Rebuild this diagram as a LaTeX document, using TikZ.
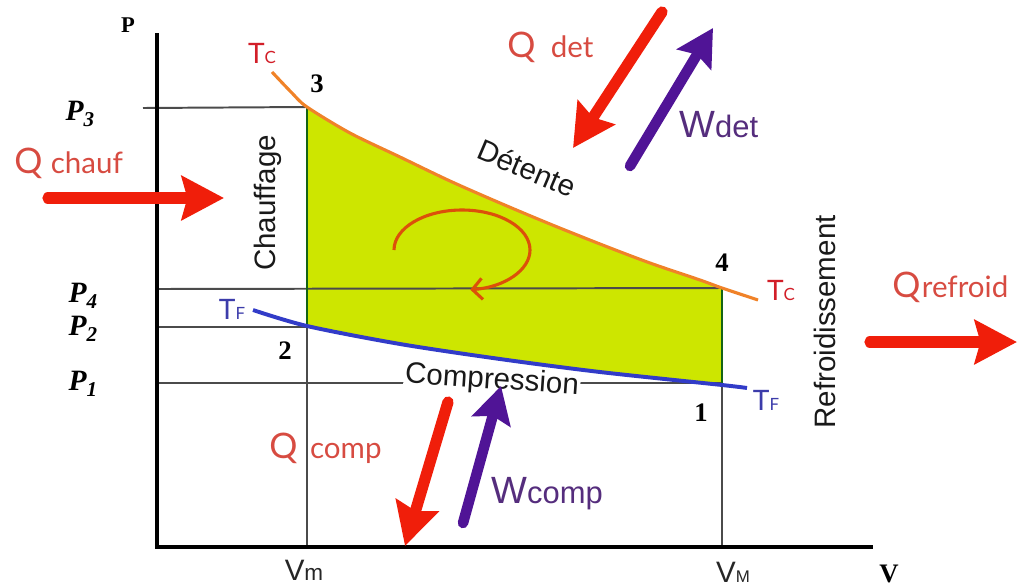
\documentclass[tikz,border=0pt]{standalone}
\usepackage{fontspec}
\setmainfont{Liberation Serif}
\setsansfont{Liberation Sans}
\newfontfamily\gillfont{Lato}
\usetikzlibrary{arrows.meta}

\definecolor{heatred}{RGB}{240,30,10}
\definecolor{workpurple}{RGB}{80,20,150}
\definecolor{qtext}{RGB}{215,75,65}
\definecolor{wtext}{RGB}{85,45,125}
\definecolor{tcred}{RGB}{210,30,40}
\definecolor{tfblue}{RGB}{60,60,170}
\definecolor{hotline}{RGB}{240,130,40}
\definecolor{coldline}{RGB}{50,60,200}
\definecolor{cyclefill}{RGB}{205,230,0}
\definecolor{cycleedge}{RGB}{20,100,20}
\definecolor{turnarrow}{RGB}{220,80,10}
\definecolor{guidegray}{RGB}{75,75,75}

\newcommand{\fsz}[1]{\fontsize{#1}{#1}\selectfont}

\tikzset{
  axisline/.style={line width=3pt, black},
  guide/.style={line width=1.4pt, guidegray},
  heatarrow/.style={line width=8pt, heatred, line cap=round, -{Stealth[length=30pt,width=31pt,inset=4pt]}},
  workarrow/.style={line width=7.5pt, workpurple, line cap=round, -{Stealth[length=26pt,width=28pt,inset=4pt]}},
  stagelabel/.style={font=\sffamily\fsz{21}, text=black!90},
  statenum/.style={font=\bfseries\fsz{19}},
  plabel/.style={font=\bfseries\itshape\fsz{21}},
  qlabel/.style={font=\gillfont\fsz{25}, text=qtext, anchor=base west, inner sep=0pt},
  wlabel/.style={font=\sffamily\fsz{27}, text=wtext, anchor=base west, inner sep=0pt},
  tlabel/.style={font=\gillfont\fsz{20}},
}

\begin{document}
\begin{tikzpicture}[x=0.025cm, y=-0.025cm]

\useasboundingbox (0,0) rectangle (1024,587);

\coordinate (origin) at (157,547);
\coordinate (s1) at (722,385);
\coordinate (s2) at (307,326);
\coordinate (s3) at (307,107);
\coordinate (s4) at (722,288);

\fill[cyclefill] (s2) -- (s3)
  -- plot[smooth] coordinates {(307,107) (350,133) (400,157) (450,181) (500,203) (550,224) (600,244) (650,263) (700,280) (722,288)}
  -- (s1)
  -- plot[smooth] coordinates {(722,385) (600,372) (500,359) (400,344) (307,326)}
  -- cycle;

\draw[guide] (143,108) -- (s3);
\draw[guide] (157,289) -- (s4);
\draw[guide] (157,327) -- (307,327);
\draw[guide] (157,383) -- (722,383);
\draw[guide] (s2) -- (307,547);
\draw[guide] (s1) -- (722,547);
\draw[line width=2pt, cycleedge] (s3) -- (s2);
\draw[line width=2pt, cycleedge] (s4) -- (s1);

\draw[axisline] (157,33) -- (origin) -- (873,547);

\node (compression) [stagelabel, rotate=-4, fill=white, inner sep=1pt] at (492,381) {Compression};

\draw[line width=2.2pt, hotline] plot[smooth] coordinates {(272,72) (292,93) (307,107) (350,133) (400,157) (450,181) (500,203) (550,224) (600,244) (650,263) (700,280) (722,288) (758,300)};
\draw[line width=2.8pt, coldline] plot[smooth] coordinates {(253,310) (307,326) (400,344) (500,359) (600,372) (722,385) (747,388)};

\draw[line width=2.2pt, turnarrow, -{Straight Barb[length=7pt,width=15pt]}] (394,250) arc[start angle=180, end angle=443, x radius=68, y radius=40];

\node (paxis) [font=\bfseries\fsz{16}] at (128,25) {P};
\node (vaxis) [font=\bfseries\fsz{19}, inner sep=0pt] at (889,574) {V};
\node (p3) [plabel] at (80,114) {P\raisebox{-4pt}{\fsz{15}3}};
\node (p4) [plabel] at (83,296) {P\raisebox{-4pt}{\fsz{15}4}};
\node (p2) [plabel] at (83,329) {P\raisebox{-4pt}{\fsz{15}2}};
\node (p1) [plabel] at (83,384) {P\raisebox{-4pt}{\fsz{15}1}};
\node (vmin) [font=\sffamily\fsz{21}, text=black!85] at (304,570) {V{\fsz{16}m}};
\node (vmax) [font=\sffamily\fsz{21}, text=black!85] at (733,572) {V{\fsz{12}M}};

\node (n3) [statenum] at (317,84) {3};
\node (n2) [statenum] at (285,351) {2};
\node (n4) [statenum] at (722,263) {4};
\node (n1) [statenum] at (701,413) {1};

\node (tc3) [tlabel, text=tcred] at (262,53) {T{\fsz{12}C}};
\node (tc4) [tlabel, text=tcred] at (781,290) {T{\fsz{12}C}};
\node (tf2) [tlabel, text=tfblue] at (232,309) {T{\fsz{12}F}};
\node (tf1) [tlabel, text=tfblue] at (766,400) {T{\fsz{12}F}};

\node (chauffage) [stagelabel, rotate=90] at (268,203) {Chauffage};
\node (detente) [stagelabel, rotate=-23, inner sep=0pt] at (527,168) {Détente};
\node (refroid) [stagelabel, rotate=90] at (825,322) {Refroidissement};

\coordinate (qchA) at (48,198);
\coordinate (qchB) at (224,198);
\coordinate (qdetA) at (662,12);
\coordinate (qdetB) at (573,148);
\coordinate (wdetA) at (630,166);
\coordinate (wdetB) at (713,28);
\coordinate (qrefA) at (870,342);
\coordinate (qrefB) at (1017,342);
\coordinate (qcompA) at (448,402);
\coordinate (qcompB) at (405,546);
\coordinate (wcompA) at (463,523);
\coordinate (wcompB) at (501,386);

\draw[heatarrow] (qchA) -- (qchB);
\draw[heatarrow] (qdetA) -- (qdetB);
\draw[heatarrow] (qrefA) -- (qrefB);
\draw[heatarrow] (qcompA) -- (qcompB);
\draw[workarrow] (wdetA) -- (wdetB);
\draw[workarrow] (wcompA) -- (wcompB);

\node (lqchauf) [qlabel] at (14,173) {Q\hspace{6pt}{\fsz{21}chauf}};
\node (lqdet) [qlabel] at (507,57) {Q\hspace{11pt}{\fsz{21}det}};
\node (lqrefroid) [qlabel] at (892,297) {Q\hspace{1pt}{\fsz{21}refroid}};
\node (lqcomp) [qlabel] at (269,458) {Q\hspace{9pt}{\fsz{21}comp}};
\node (lwdet) [wlabel] at (679,137) {W{\fsz{22}det}};
\node (lwcomp) [wlabel] at (491,503) {W{\fsz{22}comp}};

\end{tikzpicture}
\end{document}
